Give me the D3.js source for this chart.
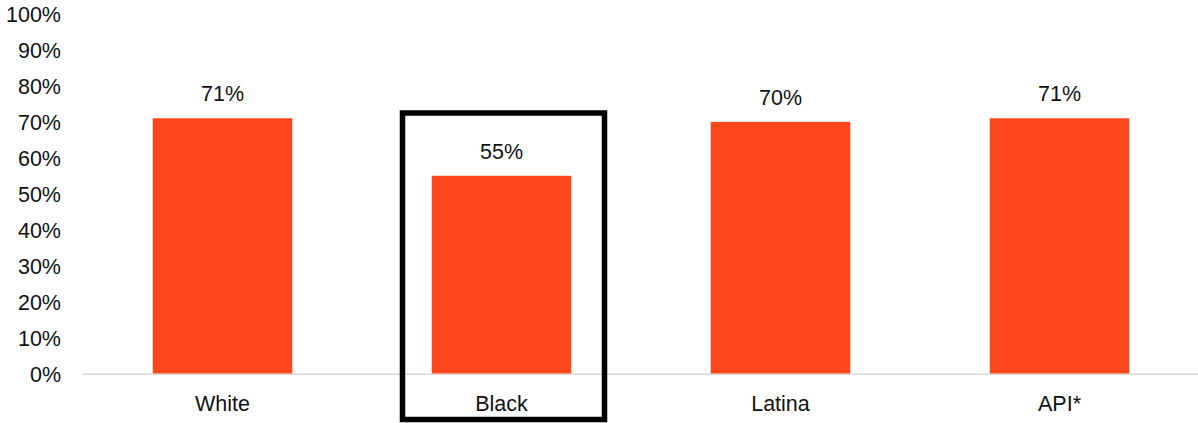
<!DOCTYPE html>
<html>
<head>
<meta charset="utf-8">
<script src="https://cdn.jsdelivr.net/npm/d3@7"></script>
<style>
  body { margin: 0; background: #fff; }
  text { font-family: "Liberation Sans", Arial, sans-serif; fill: #111; }
</style>
</head>
<body>
<div id="main"></div>
<script>
var categories = ["White", "Black", "Latina", "API*"];
var values = [71, 55, 70, 71];
var tickValues = [0, 10, 20, 30, 40, 50, 60, 70, 80, 90, 100];
var highlighted = "Black";

var width = 1198, height = 423;
var svg = d3.select("#main").append("svg")
  .attr("width", width)
  .attr("height", height);//create canvas

var x = d3.scaleBand()
  .domain(categories)
  .range([83, 1199])
  .paddingInner(0.5)
  .paddingOuter(0.25);//category scale
var y = d3.scaleLinear()
  .domain([0, 100])
  .range([373.5, 14]);//percent scale

var yAxis = d3.axisLeft(y).tickValues(tickValues).tickFormat(function(d) { return d + "%"; }).tickSize(0).tickPadding(0);
svg.append("g")
  .attr("transform", "translate(61,0)")
  .call(yAxis)
  .call(function(g) { g.select(".domain").remove(); })
  .selectAll("text")
  .attr("dy", "0.35em")
  .style("font-size", "21.5px")
  .style("fill", "#111");//y-axis labels

svg.append("line")
  .attr("x1", 83).attr("x2", 1198)
  .attr("y1", y(0) + 0.75).attr("y2", y(0) + 0.75)
  .attr("stroke", "#d9d9d9")
  .attr("stroke-width", 1.5);//baseline

svg.selectAll(".bar").data(categories).enter().append("rect")
  .attr("class", "bar")
  .attr("x", function(d) { return x(d); })
  .attr("width", x.bandwidth())
  .attr("y", function(d, i) { return y(values[i]); })
  .attr("height", function(d, i) { return y(0) - y(values[i]); })
  .attr("fill", "#fc461b");//draw bars

svg.selectAll(".val").data(categories).enter().append("text")
  .attr("class", "val")
  .attr("x", function(d) { return x(d) + x.bandwidth() / 2; })
  .attr("y", function(d, i) { return y(values[i]) - 17; })
  .attr("text-anchor", "middle")
  .style("font-size", "21.5px")
  .text(function(d, i) { return values[i] + "%"; });//value labels

svg.selectAll(".cat").data(categories).enter().append("text")
  .attr("class", "cat")
  .attr("x", function(d) { return x(d) + x.bandwidth() / 2; })
  .attr("y", 411)
  .attr("text-anchor", "middle")
  .style("font-size", "21.5px")
  .text(function(d) { return d; });//category labels

var cx = x(highlighted) + x.bandwidth() / 2 + 2;
svg.append("rect")
  .attr("x", cx - 101)
  .attr("y", 113)
  .attr("width", 202)
  .attr("height", 306.5)
  .attr("fill", "none")
  .attr("stroke", "#000")
  .attr("stroke-width", 5.5);//highlight box
</script>
</body>
</html>
